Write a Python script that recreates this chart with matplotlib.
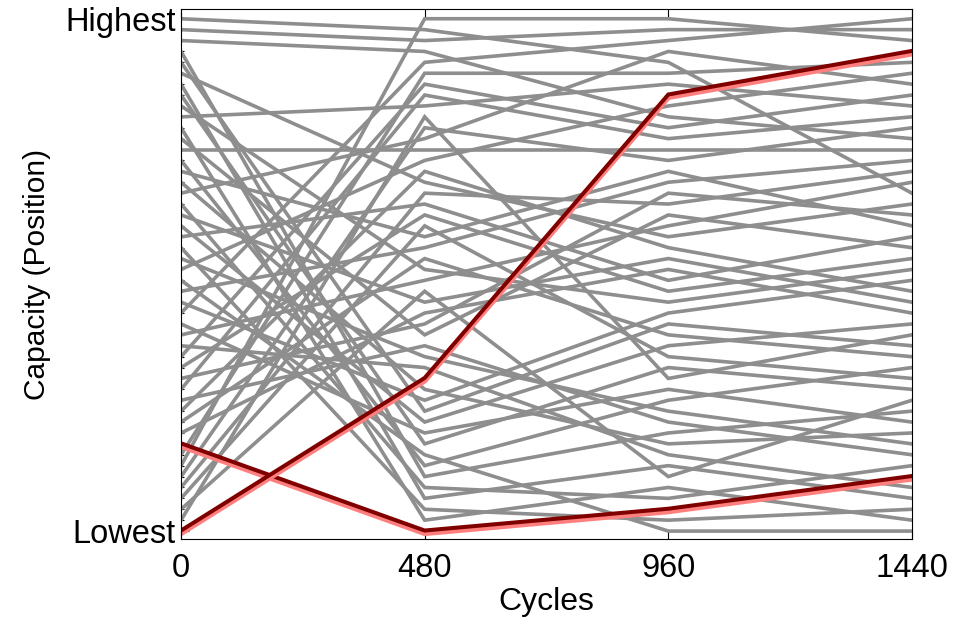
"""Rank (position) of each cell's capacity over the cycles."""

import numpy as np
from matplotlib import pyplot as plt

plt.rcParams['font.family'] = ['Liberation Sans', 'DejaVu Sans']

cycles = [0, 480, 960, 1440]
n_cells = 48

# rank of every cell at each cycle (1 = lowest, 48 = highest)
rank_0 = [48, 47, 46, 45, 44, 43, 42, 41, 40, 39, 38, 37, 36, 35, 34, 33, 32, 31, 30, 29, 28, 27, 26,
          25, 24, 23, 22, 21, 20, 19, 18, 17, 16, 15, 14, 13, 12, 11, 10, 8, 7, 6, 5, 4, 3, 2]
rank_480 = [47, 46, 45, 6, 12, 33, 4, 9, 25, 40, 2, 19, 36, 7, 28, 14, 37, 5, 22, 11, 31, 3, 17,
            35, 8, 27, 13, 44, 10, 24, 16, 42, 30, 20, 41, 18, 34, 26, 21, 43, 48, 38, 32, 29, 23, 39]
rank_960 = [44, 47, 39, 10, 20, 28, 7, 16, 22, 42, 5, 30, 36, 13, 34, 9, 45, 4, 26, 18, 24, 2, 12,
            40, 1, 33, 21, 46, 14, 29, 8, 38, 23, 32, 37, 11, 27, 19, 25, 43, 48, 35, 31, 17, 6, 15]
rank_1440 = [32, 47, 37, 12, 18, 31, 4, 14, 25, 40, 2, 27, 36, 16, 29, 10, 42, 7, 22, 20, 28, 3, 9,
             43, 1, 35, 24, 48, 11, 33, 5, 41, 26, 30, 39, 8, 23, 17, 21, 44, 46, 38, 34, 15, 13, 19]

# highlighted cells
red_a = [1, 15, 41, 45]
red_b = [9, 1, 3, 6]

ranks = np.array([rank_0, rank_480, rank_960, rank_1440])

fig = plt.figure(figsize=(9.64, 6.2), dpi=100)
ax = fig.add_axes([0.1878, 0.1306, 0.7582, 0.855])

for i in range(ranks.shape[1]):
    ax.plot(cycles, ranks[:, i], color='#8e8e8e', lw=2.6, solid_joinstyle='miter')

for red in [red_b, red_a]:
    ax.plot(cycles, np.array(red) - 0.22, color='#ff7f7f', lw=3.8, solid_joinstyle='miter')
    ax.plot(cycles, np.array(red) + 0.05, color='#800000', lw=2.9, solid_joinstyle='miter')

ax.set_xlim(0, 1440)
ax.set_ylim(0.27, 48.9)
ax.set_xticks(cycles)
ax.set_yticks([1, n_cells])
ax.set_yticklabels(['Lowest', 'Highest'])
ax.set_yticks(np.arange(1, n_cells + 1), minor=True)
ax.tick_params(axis='both', which='major', direction='in', length=6, width=0.8,
               labelsize=23.5, top=True, right=True)
ax.tick_params(axis='x', which='major', pad=10)
ax.tick_params(axis='y', which='major', pad=4)
ax.tick_params(axis='y', which='minor', direction='in', length=2.5, width=0.8, right=True)
ax.set_xlabel('Cycles', fontsize=23, labelpad=2)
ax.set_ylabel('Capacity (Position)', fontsize=21.5, labelpad=10)
for s in ax.spines.values():
    s.set_linewidth(0.8)

fig.savefig('out.png', dpi=100)
